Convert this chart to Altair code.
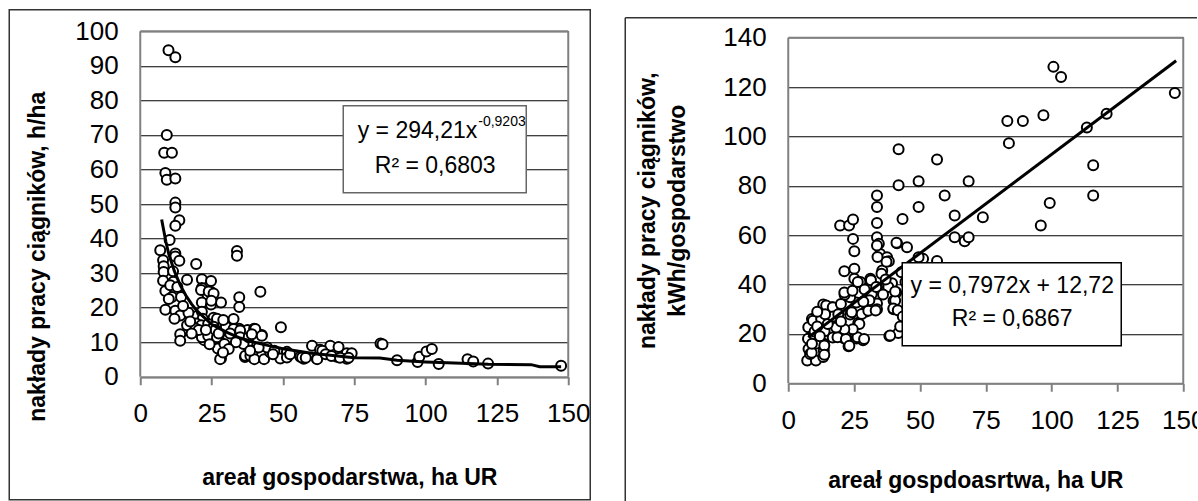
import altair as alt
import pandas as pd

FONT = "Liberation Sans"

# ---------------- data: left panel (h/ha) ----------------
area_l = [9.9, 12.3, 9.3, 8.4, 11.1, 8.8, 9.3, 12.3, 12.3, 12.3,
          13.7, 12.3, 10.3, 7.0, 12.3, 12.3, 13.7, 8.0, 8.2, 8.2,
          8.0, 11.6, 16.4, 19.6, 8.8, 11.1, 14.3, 8.8, 12.3, 14.0,
          12.0, 16.4, 14.0, 14.0, 18.7, 19.9, 21.6, 24.8, 21.6, 23.6,
          24.8, 21.6, 24.8, 28.3, 22.4, 25.7, 22.4, 25.7, 27.2, 28.3,
          22.4, 32.7, 33.9, 33.9, 34.7, 34.7, 34.7, 34.7, 37.6, 39.9,
          42.1, 42.6, 37.6, 39.9, 43.3, 36.7, 49.3, 49.1, 51.4, 56.1,
          57.3, 60.2, 61.9, 63.0, 66.6, 69.5, 68.9, 72.4, 72.4, 74.1,
          84.2, 84.9, 90.0, 97.2, 97.8, 100.3, 102.2, 104.6, 114.7, 116.7,
          121.9, 147.5,
          21.3, 24.0, 25.7, 24.9, 21.6, 21.9, 19.6, 21.4, 23.8, 26.9,
          25.7, 21.6, 23.8, 26.9, 24.3, 28.0, 30.0, 32.7, 35.0, 35.0,
          36.2, 36.8, 38.6, 38.0, 40.3, 39.1, 42.6, 40.3, 42.6, 40.0,
          43.4, 45.6, 51.4, 56.7, 62.0, 63.8, 19.4, 26.4, 30.8, 29.1,
          16.9, 29.5, 31.5, 27.5, 33.5, 44.5, 47.0, 52.5, 58.0, 65.0,
          67.0, 70.0, 73.0, 11.5, 10.5, 10.0, 13.0, 15.0, 17.5, 20.5,
          18.0, 23.0, 31.0, 29.0, 46.5, 41.5, 38.5]
hours_l = [94.5, 92.5, 70.0, 64.8, 64.8, 59.0, 57.0, 57.4, 50.4, 49.0,
           45.3, 43.7, 39.6, 36.6, 35.7, 34.8, 33.6, 33.7, 32.0, 30.3,
           27.8, 27.5, 28.1, 32.6, 24.8, 23.1, 23.1, 19.4, 19.1, 17.7,
           16.8, 14.9, 12.3, 10.4, 17.1, 17.6, 28.2, 27.7, 25.7, 23.7,
           24.5, 21.5, 20.9, 21.5, 16.2, 17.1, 10.6, 10.8, 8.2, 5.3,
           12.0, 16.7, 36.4, 35.0, 23.0, 20.2, 13.9, 11.8, 13.5, 13.9,
           24.6, 12.1, 9.8, 5.3, 5.3, 5.7, 14.3, 5.3, 7.2, 5.8,
           5.2, 9.0, 5.2, 7.8, 9.0, 8.6, 5.8, 6.8, 5.2, 6.8,
           9.6, 9.4, 4.8, 4.3, 5.8, 7.3, 8.0, 3.7, 5.1, 4.4,
           3.8, 3.2,
           25.1, 24.7, 24.1, 22.0, 18.8, 16.8, 15.4, 14.9, 15.3, 16.8,
           14.5, 11.4, 11.9, 11.4, 9.4, 5.1, 14.5, 13.8, 13.4, 11.4,
           9.5, 6.1, 6.1, 11.4, 13.8, 12.3, 11.9, 7.6, 6.1, 5.1,
           5.1, 7.0, 5.6, 5.6, 5.1, 7.5, 14.0, 13.5, 11.1, 16.4,
           18.5, 9.5, 12.5, 12.5, 10.0, 8.5, 7.5, 6.5, 5.5, 6.5,
           6.0, 5.5, 5.5, 30.5, 26.5, 22.5, 26.0, 20.5, 16.0, 13.5,
           12.5, 13.5, 8.0, 7.0, 6.5, 8.5, 7.5]

# power trend line
trend_l_x = [7.5, 9, 10, 12, 14, 16, 18, 20, 25, 30, 35, 40, 45, 50,
             60, 70, 75, 84, 90, 100, 115, 122, 137, 140, 147.5]
trend_l_y = [45.5, 39, 35.5, 30.5, 26.5, 23.5, 21, 19, 15.2, 13, 11.2, 10,
             9, 8.1, 6.8, 5.9, 5.5, 5.4, 4.8, 4.3, 3.8, 3.6, 3.5, 2.9, 2.9]

# ---------------- data: right panel (kWh/farm) ----------------
area_r = [41.9, 41.9, 49.5, 56.5, 68.5, 59.4, 49.5, 43.4, 33.7, 33.7,
          33.7, 33.7, 34.4, 63.2, 73.9, 63.2, 67.0, 68.5, 41.3, 45.1,
          19.7, 23.1, 24.6, 24.6, 25.1, 34.9, 37.5, 38.2, 35.7, 21.3,
          25.1, 25.1, 27.4, 31.2, 33.7, 31.7, 39.4, 41.0, 40.0, 40.0,
          33.7, 33.7, 29.3, 25.9, 23.5, 21.4, 23.5, 26.6, 16.6, 13.3,
          22.3, 21.3, 22.9, 25.9, 28.4, 38.4, 41.8, 16.9, 13.8, 11.5,
          9.0, 7.6, 7.5, 7.7, 7.2, 10.5, 13.5, 13.5, 13.3, 10.4,
          9.7, 12.3, 8.3,
          100.7, 103.6, 146.8, 120.9, 96.9, 83.2, 89.1, 83.8, 113.4, 115.8,
          115.8, 99.3, 95.9, 51.2, 49.5, 56.5,
          8.9, 13.7, 13.7, 9.4, 12.5, 14.4, 16.9, 20.0, 18.7, 21.9,
          23.2, 26.3, 28.8, 27.0, 24.5, 21.3, 18.2, 15.7, 24.1, 27.9,
          30.4, 21.3, 24.4, 26.4, 31.4, 33.4, 30.8, 33.2, 35.4, 37.3,
          38.0, 33.9, 33.7, 41.1, 38.7, 40.6, 39.9, 41.6, 40.6, 10.0,
          11.0, 12.0, 15.0, 17.0, 19.0, 20.0, 14.0, 11.0, 9.0, 29.0,
          36.0, 37.0, 28.5, 43.0, 44.5, 43.5, 42.5]
energy_r = [94.8, 80.2, 81.9, 90.7, 81.9, 76.1, 71.4, 66.6, 76.1, 71.4,
            64.9, 59.2, 56.5, 68.0, 67.3, 59.2, 57.5, 59.2, 56.7, 55.1,
            63.9, 63.9, 66.4, 58.5, 53.5, 52.4, 51.1, 49.4, 45.7, 45.4,
            46.4, 42.3, 41.0, 42.3, 38.9, 36.2, 40.5, 36.8, 33.4, 30.0,
            32.3, 30.0, 29.0, 32.7, 34.8, 35.9, 27.9, 24.5, 30.8, 31.9,
            21.1, 18.1, 15.0, 18.1, 17.4, 19.1, 20.4, 18.5, 21.1, 26.0,
            26.0, 22.7, 18.0, 13.9, 9.2, 9.2, 16.0, 13.3, 10.6, 16.0,
            20.0, 25.3, 11.9,
            128.2, 124.1, 117.6, 109.2, 108.6, 106.3, 106.3, 97.3, 103.6, 88.3,
            76.1, 73.0, 63.9, 50.4, 51.1, 49.5,
            12.4, 15.3, 11.5, 25.3, 26.0, 31.5, 30.8, 32.1, 18.6, 17.9,
            15.2, 18.6, 17.9, 24.0, 21.9, 21.9, 22.6, 26.7, 28.8, 28.1,
            29.4, 36.8, 37.5, 41.0, 41.7, 39.0, 33.6, 29.5, 44.4, 49.2,
            39.0, 51.2, 55.8, 56.9, 19.3, 33.5, 30.3, 29.6, 37.2, 21.0,
            23.0, 19.0, 24.0, 27.0, 28.0, 25.0, 28.0, 29.0, 16.0, 38.0,
            36.0, 42.0, 33.0, 45.0, 41.0, 27.0, 23.0]

trend_r_x = [7.6, 147.3]
trend_r_y = [18.6, 130.7]

x_ticks = [0, 25, 50, 75, 100, 125, 150]
y_ticks_l = list(range(0, 101, 10))
y_ticks_r = list(range(0, 141, 20))

# ---------------- geometry ----------------
W_L, H_L = 428, 345.5
W_R, H_R = 395, 352
Y_MAX_R = 140 * H_R / 345.5

GRAY = "#808080"
TICK_FS = 26


def x_axis(title, tx, ty):
    return alt.Axis(values=x_ticks, grid=False, domainColor=GRAY, domainWidth=2,
                    tickColor=GRAY, tickWidth=2, tickSize=8,
                    labelFont=FONT, labelFontSize=TICK_FS, labelColor="black",
                    labelPadding=29, labelBaseline="middle", labelFlush=False,
                    labelOverlap=False,
                    title=title, titleFont=FONT, titleFontSize=23,
                    titleFontWeight="bold", titleColor="black",
                    titleX=tx, titleY=ty, titleAlign="center",
                    titleBaseline="middle")


def y_axis(values, title, tx, ty):
    return alt.Axis(values=values, grid=True, gridColor="black", gridWidth=1,
                    domain=False, ticks=False,
                    labelFont=FONT, labelFontSize=TICK_FS, labelColor="black",
                    labelPadding=22, labelBaseline="middle", labelOverlap=False,
                    title=title, titleFont=FONT, titleFontSize=23,
                    titleFontWeight="bold", titleColor="black",
                    titleAngle=270, titleX=tx, titleY=ty, titleAlign="center",
                    titleBaseline="middle", titleLineHeight=30)


def panel(df_pts, df_trend, xs, ys, xax, yax, border_df, boxes, texts,
          frame_layers, w, h):
    X = alt.X("x:Q", scale=xs, axis=xax)
    Y = alt.Y("y:Q", scale=ys, axis=yax)
    pts = alt.Chart(df_pts).mark_circle(fill="white", stroke="black",
                                        strokeWidth=2, size=100, opacity=1
                                        ).encode(x=X, y=Y)
    trend = alt.Chart(df_trend).mark_line(color="black", strokeWidth=3
                                          ).encode(x=X, y=Y, order="x:Q")
    border = alt.Chart(border_df).mark_rule(color=GRAY, strokeWidth=2).encode(
        x=X, y=Y, x2="x2:Q", y2="y2:Q")
    layers = [pts, trend, border]
    one = pd.DataFrame({"k": [0]})
    for (x0, x1, y0, y1, col) in boxes:
        layers.append(alt.Chart(one).mark_rect(fill="white", stroke=col,
                                               strokeWidth=1.5).encode(
            x=alt.value(x0), x2=alt.value(x1), y=alt.value(y0), y2=alt.value(y1)))
    for (txt, tx, ty, fs, al) in texts:
        layers.append(alt.Chart(one).mark_text(text=txt, font=FONT, fontSize=fs,
                                               color="black", align=al,
                                               baseline="middle").encode(
            x=alt.value(tx), y=alt.value(ty)))
    layers += frame_layers
    return alt.layer(*layers).properties(width=w, height=h)


one = pd.DataFrame({"k": [0]})

# ---------------- left panel ----------------
left_pts = pd.DataFrame({"x": area_l, "y": hours_l})
left_trend = pd.DataFrame({"x": trend_l_x, "y": trend_l_y})
left_border = pd.DataFrame({"x": [0, 150, 0], "x2": [0, 150, 150],
                            "y": [0, 0, 100], "y2": [100, 100, 100]})
left_frame = [alt.Chart(one).mark_rect(fillOpacity=0, stroke="#333333",
                                       strokeWidth=1.5).encode(
    x=alt.value(-131), x2=alt.value(450), y=alt.value(-21.5), y2=alt.value(468.5))]
left = panel(
    left_pts, left_trend,
    alt.Scale(domain=[0, 150], nice=False, zero=False),
    alt.Scale(domain=[0, 100], nice=False),
    x_axis("areał gospodarstwa, ha UR", 209, 101),
    y_axis(y_ticks_l, "nakłady pracy ciągników, h/ha", -103, 225),
    left_border,
    [(203, 386, 74.5, 161.5, "#666666")],
    [("y = 294,21x", 337, 99.5, 23, "right"),
     ("-0,9203", 338, 91, 14, "left"),
     ("R² = 0,6803", 295, 134.5, 23, "center")],
    left_frame, W_L, H_L)

# ---------------- right panel ----------------
right_pts = pd.DataFrame({"x": area_r, "y": energy_r})
right_trend = pd.DataFrame({"x": trend_r_x, "y": trend_r_y})
right_border = pd.DataFrame({"x": [0, 150, 0], "x2": [0, 150, 150],
                             "y": [0, 0, 140], "y2": [140, 140, 140]})
right_frame = [
    alt.Chart(one).mark_rule(color="#333333", strokeWidth=1.5).encode(
        x=alt.value(-163), y=alt.value(-13.5), y2=alt.value(470)),
    alt.Chart(one).mark_rule(color="#333333", strokeWidth=1.5).encode(
        x=alt.value(-163), x2=alt.value(410), y=alt.value(-13.5)),
]
right = panel(
    right_pts, right_trend,
    alt.Scale(domain=[0, 150], nice=False, zero=False),
    alt.Scale(domain=[0, Y_MAX_R], nice=False),
    x_axis("areał gospdoasrtwa, ha UR", 187, 97.5),
    y_axis(y_ticks_r, ["nakłady pracy ciągników,", "kWh/gospodarstwo"], -141, 179),
    right_border,
    [(114, 333, 231.5, 314.5, "black")],
    [("y = 0,7972x + 12,72", 224, 254.5, 23, "center"),
     ("R² = 0,6867", 224, 287.5, 23, "center")],
    right_frame, W_R, H_R)

chart = alt.hconcat(left, right, spacing=220, bounds="flush").resolve_scale(
    x="independent", y="independent"
).configure_view(stroke=None).properties(
    padding={"left": 8.25, "top": 8.25, "right": -8, "bottom": 0},
    background="white")

chart.save("out.html", embed_options={"renderer": "svg", "actions": False})
